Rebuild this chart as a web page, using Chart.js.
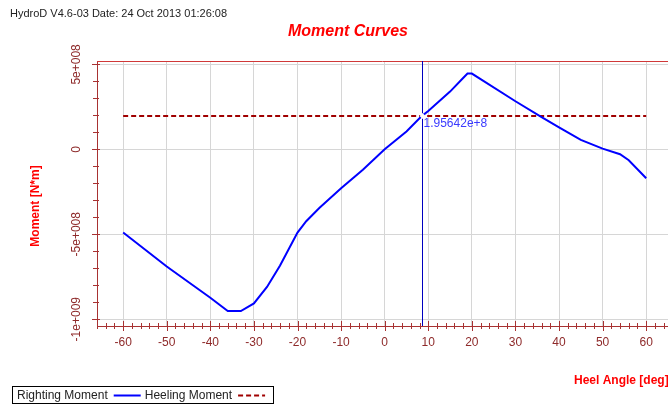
<!DOCTYPE html>
<html>
<head>
<meta charset="utf-8">
<script src="https://cdn.jsdelivr.net/npm/chart.js@4/dist/chart.umd.min.js"></script>
<style>
  body { margin: 0; background: #fff; }
  canvas { display: block; }
</style>
</head>
<body>
<canvas id="momentChart" width="668" height="405"></canvas>
<script>
// values
const heelAngles = [-60, -50, -40, -36, -33, -30, -27, -24, -20, -18, -15, -10, -5, 0, 5, 8.5, 10, 15, 18, 19, 20, 30, 36, 40, 45, 50, 54, 56, 60];
const rightingMoment = [-4.9e8, -6.9e8, -8.74e8, -9.52e8, -9.52e8, -9.07e8, -8.1e8, -6.84e8, -4.9e8, -4.23e8, -3.45e8, -2.29e8, -1.2e8, 0, 1.05e8, 1.956e8, 2.26e8, 3.4e8, 4.2e8, 4.46e8, 4.46e8, 2.83e8, 1.9e8, 1.29e8, 0.56e8, 0.04e8, -0.29e8, -0.64e8, -1.7e8];
const heelingAngles = [-60, 60];
const heelingMoment = [1.95642e8, 1.95642e8];

const xTicks = [-60, -50, -40, -30, -20, -10, 0, 10, 20, 30, 40, 50, 60];
const yTicks = [-1e9, -5e8, 0, 5e8];
const yTickLabels = ["-1e+009", "-5e+008", "0", "5e+008"];

const cursorAngle = 8.5;
const cursorValue = 1.95642e8;
const cursorLabel = "1.95642e+8";

const headerText = "HydroD V4.6-03 Date: 24 Oct 2013 01:26:08";
const titleText = "Moment Curves";
const xTitle = "Heel Angle [deg]";
const yTitle = "Moment [N*m]";

const FONT = "'Liberation Sans', Arial, sans-serif";
const axisColor = "#a83232";
const tickColor = "#8e2a2a";
const titleRed = "#ff0000";

const decor = {
    id: "decor",
    beforeDatasetsDraw(chart) {
        const ctx = chart.ctx;
        const a = chart.chartArea;
        const xs = chart.scales.x, ys = chart.scales.y;
        ctx.save();
        // top border
        ctx.strokeStyle = "#d03838";
        ctx.lineWidth = 1;
        ctx.beginPath();
        ctx.moveTo(a.left, a.top + 0.5);
        ctx.lineTo(a.right, a.top + 0.5);
        ctx.stroke();

        // minor + major ticks crossing the axes
        ctx.strokeStyle = axisColor;
        ctx.beginPath();
        for (let v = -66; v <= 65; v += 2) {
            const px = Math.round(xs.getPixelForValue(v)) + 0.5;
            const major = xTicks.includes(v);
            ctx.moveTo(px, a.bottom - (major ? 5 : 3));
            ctx.lineTo(px, a.bottom + (major ? 5 : 3));
        }
        for (let k = -10; k <= 5; k++) {
            const py = Math.round(ys.getPixelForValue(k * 1e8)) + 0.5;
            const major = k % 5 === 0;
            ctx.moveTo(a.left - (major ? 5 : 4), py);
            ctx.lineTo(a.left + (major ? 3 : 2), py);
        }
        ctx.stroke();
        ctx.restore();
    },
    afterDatasetsDraw(chart) {
        const ctx = chart.ctx;
        const a = chart.chartArea;
        const xs = chart.scales.x, ys = chart.scales.y;
        ctx.save();
        // cursor line
        const cx = Math.round(xs.getPixelForValue(cursorAngle)) + 0.5;
        const cy = ys.getPixelForValue(cursorValue);
        ctx.strokeStyle = "#0000c0";
        ctx.lineWidth = 1;
        ctx.beginPath();
        ctx.moveTo(cx, a.top);
        ctx.lineTo(cx, a.bottom);
        ctx.stroke();
        ctx.fillStyle = "#fff";
        ctx.beginPath();
        ctx.moveTo(cx, cy - 3);
        ctx.lineTo(cx + 3, cy);
        ctx.lineTo(cx, cy + 3);
        ctx.lineTo(cx - 3, cy);
        ctx.closePath();
        ctx.fill();
        ctx.fillStyle = "#3a3aff";
        ctx.font = "12px " + FONT;
        ctx.textAlign = "left";
        ctx.textBaseline = "middle";
        ctx.fillText(cursorLabel, cx + 1, cy + 8);
        ctx.restore();
    },
    afterDraw(chart) {
        const ctx = chart.ctx;
        const ys = chart.scales.y;
        ctx.save();
        // header
        ctx.fillStyle = "#222";
        ctx.font = "11px " + FONT;
        ctx.textAlign = "left";
        ctx.textBaseline = "middle";
        ctx.fillText(headerText, 10, 14);

        // title
        ctx.fillStyle = titleRed;
        ctx.font = "italic bold 16px " + FONT;
        ctx.textAlign = "center";
        ctx.fillText(titleText, 348, 32);

        // y tick labels (rotated)
        ctx.fillStyle = tickColor;
        ctx.font = "12px " + FONT;
        yTicks.forEach((v, i) => {
            ctx.save();
            ctx.translate(77, ys.getPixelForValue(v));
            ctx.rotate(-Math.PI / 2);
            ctx.textAlign = "center";
            ctx.textBaseline = "middle";
            ctx.fillText(yTickLabels[i], 0, 0);
            ctx.restore();
        });

        // y title
        ctx.save();
        ctx.fillStyle = titleRed;
        ctx.font = "bold 12px " + FONT;
        ctx.translate(36, 206);
        ctx.rotate(-Math.PI / 2);
        ctx.textAlign = "center";
        ctx.textBaseline = "middle";
        ctx.fillText(yTitle, 0, 0);
        ctx.restore();

        // x title
        ctx.fillStyle = titleRed;
        ctx.font = "bold 12px " + FONT;
        ctx.textAlign = "left";
        ctx.textBaseline = "middle";
        ctx.fillText(xTitle, 574, 381);

        // legend box: label then line sample
        ctx.strokeStyle = "#000";
        ctx.lineWidth = 1;
        ctx.strokeRect(12.5, 386.5, 261, 17);
        ctx.font = "12px " + FONT;
        ctx.fillStyle = "#222";
        let x = 17;
        chart.data.datasets.forEach(ds => {
            ctx.fillText(ds.label, x, 395.5);
            x += ctx.measureText(ds.label).width + 6;
            ctx.strokeStyle = ds.borderColor;
            ctx.lineWidth = 2;
            ctx.setLineDash(ds.borderDash || []);
            ctx.beginPath();
            ctx.moveTo(x, 395.5);
            ctx.lineTo(x + 27, 395.5);
            ctx.stroke();
            ctx.setLineDash([]);
            x += 31;
        });
        ctx.restore();
    }
};

const ctx = document.getElementById("momentChart").getContext("2d");
new Chart(ctx, {
    type: "line",
    data: {
        datasets: [{
            label: "Righting Moment",
            data: heelAngles.map((a, i) => ({ x: a, y: rightingMoment[i] })),
            borderColor: "#0000ff",
            borderWidth: 2,
            pointRadius: 0,
            tension: 0
        }, {
            label: "Heeling Moment",
            data: heelingAngles.map((a, i) => ({ x: a, y: heelingMoment[i] })),
            borderColor: "#a00000",
            borderWidth: 2,
            borderDash: [5, 3],
            pointRadius: 0
        }]
    },
    options: {
        responsive: false,
        animation: false,
        layout: { padding: { top: 61, left: 0, right: 0, bottom: 0 } },
        plugins: {
            legend: { display: false },
            tooltip: { enabled: false },
            title: { display: false }
        },
        scales: {
            x: {
                type: "linear",
                min: -66,
                max: 65,
                afterBuildTicks: s => { s.ticks = xTicks.map(v => ({ value: v })); },
                afterFit: s => { s.height = 79; },
                grid: { color: "#d6d6d6", drawTicks: false },
                border: { color: axisColor, width: 1 },
                ticks: { color: tickColor, font: { family: FONT, size: 12 }, padding: 9, maxRotation: 0 }
            },
            y: {
                min: -1.04e9,
                max: 5.2e8,
                afterBuildTicks: s => { s.ticks = yTicks.map(v => ({ value: v })); },
                afterFit: s => { s.width = 97; },
                grid: { color: "#d6d6d6", drawTicks: false },
                border: { color: axisColor, width: 1 },
                ticks: { display: false }
            }
        }
    },
    plugins: [decor]
});
</script>
</body>
</html>
